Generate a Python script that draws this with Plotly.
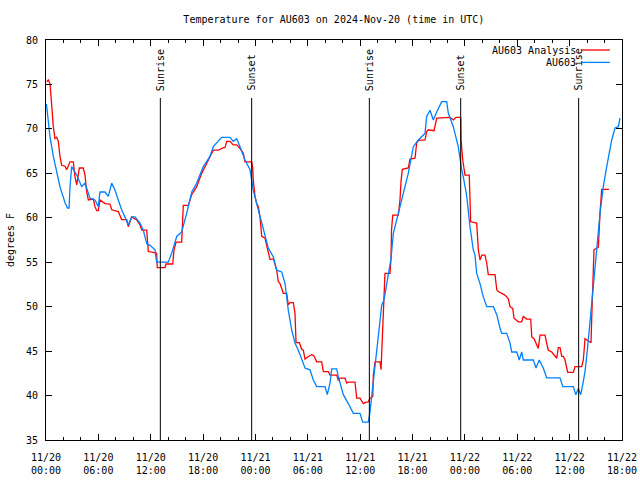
import plotly.graph_objects as go
import pandas as pd

base = pd.Timestamp("2024-11-20 00:00")
x_end = pd.Timestamp("2024-11-22 18:00")

# AU603 Analysis (hours since 11/20 00:00 UTC, degrees F)
analysis_hours = [0.08, 0.26, 0.46, 0.65, 0.84, 1.03, 1.23, 1.41, 1.60, 1.80, 2.18, 2.37, 2.75, 3.13, 3.32, 3.52,
                  3.82, 4.27, 4.47, 4.66, 4.85, 5.42, 5.61, 5.81, 5.99, 6.19, 6.76, 7.33, 7.53, 8.28, 8.67, 9.25,
                  9.43, 9.82, 10.39, 10.77, 10.97, 11.54, 11.72, 12.30, 12.68, 12.75, 13.64, 13.75, 14.52, 14.67,
                  14.90, 15.55, 15.73, 16.31, 16.70, 17.27, 17.84, 18.41, 18.79, 19.17, 19.74, 20.32, 20.51, 20.71,
                  21.08, 21.46, 21.85, 22.23, 22.61, 22.80, 23.57, 23.69, 23.75, 23.83, 23.95, 24.14, 24.33, 24.52,
                  24.72, 25.09, 25.29, 25.67, 26.05, 26.43, 26.62, 26.81, 27.20, 27.58, 27.76, 27.96, 28.34, 28.53,
                  28.65, 29.03, 29.30, 29.48, 29.68, 30.06, 30.45, 30.71, 31.02, 31.59, 31.78, 32.35, 32.54, 33.31,
                  33.50, 33.69, 34.26, 34.46, 34.64, 35.41, 35.60, 35.98, 36.36, 36.55, 36.93, 37.13, 37.44, 37.51,
                  37.70, 38.27, 38.39, 38.58, 38.73, 38.84, 39.42, 39.53, 39.59, 39.73, 40.37, 40.56, 40.68, 40.83,
                  41.51, 41.71, 42.28, 42.47, 42.66, 43.43, 43.62, 43.81, 44.46, 44.77, 46.29, 46.67, 46.98, 47.52,
                  47.56, 47.75, 48.01, 48.50, 48.66, 49.35, 49.54, 49.73, 49.93, 50.30, 50.50, 50.68, 51.45, 51.65,
                  51.83, 52.22, 52.60, 52.97, 53.17, 53.48, 53.63, 54.12, 54.51, 54.69, 55.08, 55.54, 55.66, 55.92,
                  56.23, 56.41, 56.61, 57.18, 57.37, 57.56, 57.95, 58.32, 58.52, 58.70, 58.90, 59.09, 59.28, 59.47,
                  59.67, 59.78, 60.42, 60.62, 61.38, 61.57, 61.76, 61.96, 62.45, 62.53, 62.64, 62.71, 62.79, 63.10,
                  63.29, 63.48, 63.67, 64.51]
analysis_temps = [75.3, 75.5, 75.1, 72.1, 70.25, 68.9, 69.05, 68.6, 66.9, 65.9, 65.8, 65.4, 66.3, 66.3, 64.6, 63.7,
                  65.6, 65.6, 64.8, 62.9, 62.0, 62.1, 61.25, 60.8, 60.8, 62.0, 61.6, 61.55, 60.9, 60.7, 59.8, 59.8,
                  59.0, 60.1, 59.75, 59.2, 58.6, 58.6, 56.2, 56.1, 56.0, 54.4, 54.4, 54.8, 54.8, 56.4,
                  57.25, 57.25, 61.4, 61.4, 62.6, 63.5, 65.0, 66.1, 66.9, 67.6, 67.6, 67.9, 67.9, 68.6,
                  68.6, 68.2, 68.2, 67.8, 67.25, 66.3, 66.3, 65.6, 64.25, 63.1, 62.4, 61.6, 61.25, 60.1,
                  57.9, 57.7, 56.75, 55.3, 55.4, 54.1, 52.8, 52.6, 51.5, 51.5, 50.2, 50.45, 50.45, 49.25,
                  45.95, 45.95, 45.2, 45.1, 44.1, 44.4, 44.6, 44.45, 43.8, 43.8, 42.7, 42.7, 42.3, 42.3,
                  41.7, 41.95, 41.95, 41.4, 41.5, 41.5, 39.7, 39.7, 39.1, 39.2, 39.3, 39.7, 39.9, 42.3,
                  43.8, 43.8, 42.9, 48.3, 51.9, 53.75, 53.75, 55.4, 58.6, 60.3, 60.3, 62.0, 64.1, 65.45,
                  65.6, 66.6, 66.7, 68.4, 68.7, 68.75, 69.7, 69.9, 69.8, 71.2, 71.3, 71.0, 71.3, 71.3,
                  68.75, 66.5, 64.8, 64.8, 59.55, 59.4, 56.4, 55.25, 55.8, 55.8, 54.9, 53.6, 53.6, 51.9,
                  51.7, 51.5, 51.3, 50.9, 50.0, 49.8, 48.7, 48.3, 48.3, 48.9, 48.6, 48.6, 46.6, 46.4,
                  45.7, 45.3, 46.8, 46.8, 45.9, 45.1, 44.9, 44.4, 44.2, 45.4, 45.4, 44.4, 44.4, 44.0,
                  43.1, 42.6, 42.6, 43.25, 43.25, 44.0, 46.4, 46.25, 45.95, 48.7, 51.5, 54.3, 56.4, 56.6,
                  56.7, 60.5, 63.2, 63.2]

# AU603 observations
obs_hours = [0.05, 0.46, 0.84, 1.60, 2.18, 2.46, 2.64, 2.75, 2.94, 3.13, 3.52, 4.09, 4.47, 5.04, 5.61, 5.99,
             6.19, 6.76, 7.14, 7.53, 7.91, 8.28, 8.67, 9.05, 9.43, 9.82, 10.20, 10.77, 11.15, 11.54, 11.92, 12.49,
             12.68, 14.01, 14.40, 14.98, 15.55, 16.12, 16.70, 17.27, 18.02, 18.79, 19.17, 20.13, 21.08, 21.46,
             21.85, 22.23, 22.80, 23.38, 23.75, 24.14, 24.52, 24.90, 25.47, 26.05, 26.43, 27.01, 27.39, 27.58,
             27.76, 28.15, 28.53, 28.91, 29.30, 29.68, 30.25, 30.63, 31.02, 31.97, 32.23, 32.54, 32.74, 33.31,
             33.50, 34.07, 34.64, 35.21, 35.98, 36.29, 36.93, 37.13, 37.32, 37.70, 37.89, 38.27, 38.47, 38.73,
             39.04, 39.22, 39.53, 39.80, 40.37, 40.94, 41.51, 42.09, 42.66, 43.43, 43.62, 44.00, 44.38, 44.77,
             45.34, 45.91, 46.10, 46.67, 47.24, 47.63, 47.82, 48.21, 48.58, 48.96, 49.16, 49.35, 49.73, 50.11,
             50.50, 51.26, 51.65, 52.02, 52.22, 52.79, 53.17, 53.36, 53.94, 54.23, 54.51, 54.69, 55.84, 56.15,
             56.52, 56.98, 57.37, 58.90, 59.21, 60.42, 60.70, 61.00, 61.27, 61.57, 61.76, 62.03, 62.26, 62.53,
             62.71, 63.10, 63.48, 63.86, 64.25, 64.82, 65.20, 65.58, 65.77]
obs_temps = [72.8, 69.1, 66.9, 63.5, 61.7, 61.1, 61.1, 63.5, 65.75, 65.4, 64.8, 63.5, 63.9, 62.2, 62.0, 61.25,
             62.9, 62.9, 62.4, 63.9, 63.1, 62.0, 60.9, 60.1, 59.2, 60.1, 60.1, 59.4, 58.6, 57.1, 56.9, 56.4,
             55.0, 55.0, 56.0, 57.9, 58.4, 60.5, 62.9, 63.9, 65.75, 66.9, 68.0, 69.05, 69.05, 68.6,
             68.9, 68.0, 66.5, 65.4, 63.1, 61.6, 60.1, 58.6, 56.6, 55.6, 54.1, 53.9, 52.6, 51.1,
             49.6, 47.4, 45.9, 45.1, 44.0, 43.1, 42.9, 41.75, 41.0, 41.0, 40.1, 41.4, 43.0, 43.0,
             42.1, 40.1, 39.1, 38.0, 38.0, 37.0, 37.0, 38.2, 39.9, 43.25, 45.5, 48.3, 50.2, 50.75,
             52.6, 53.75, 55.4, 58.25, 60.5, 62.75, 65.0, 68.0, 68.75, 69.5, 71.4, 72.1, 71.0, 71.9,
             73.06, 73.06, 71.75, 70.25, 68.0, 65.4, 64.6, 62.4, 59.0, 56.4, 55.8, 53.75, 52.6, 51.1,
             50.0, 50.0, 49.1, 47.6, 47.0, 47.0, 45.9, 44.9, 44.9, 44.0, 44.9, 44.0, 44.0, 43.1,
             44.0, 43.1, 42.0, 42.0, 41.0, 41.0, 40.1, 40.8, 40.1, 41.6, 42.7, 45.1, 47.4, 50.4,
             52.6, 56.4, 60.5, 63.5, 65.75, 68.75, 70.1, 70.25, 71.2]

event_times = ["2024-11-20 13:06", "2024-11-20 23:34", "2024-11-21 13:03", "2024-11-21 23:31", "2024-11-22 13:02"]
event_labels = ["Sunrise", "Sunset", "Sunrise", "Sunset", "Sunrise"]

series_names = ["AU603 Analysis", "AU603"]
series_colors = ["#ff0000", "#0080ff"]

FONT = "DejaVu Sans Mono"


def to_time(hours):
    return [base + pd.Timedelta(hours=h) for h in hours]


fig = go.Figure()
fig.add_trace(go.Scatter(x=to_time(analysis_hours), y=analysis_temps, mode="lines",
                         name=series_names[0], line=dict(color=series_colors[0], width=1.3)))
fig.add_trace(go.Scatter(x=to_time(obs_hours), y=obs_temps, mode="lines",
                         name=series_names[1], line=dict(color=series_colors[1], width=1.3)))

# Sunrise / sunset markers
for t, lab in zip(event_times, event_labels):
    fig.add_shape(type="line", xref="x", yref="paper", x0=t, x1=t, y0=0, y1=0.855,
                  line=dict(color="black", width=1))
    fig.add_annotation(x=t, xref="x", y=0.868, yref="paper", text=lab, textangle=-90,
                       showarrow=False, xanchor="center", yanchor="bottom",
                       font=dict(family=FONT, size=10, color="black"))

# Gnuplot-style legend (text on the left, line sample on the right)
legend_y = [0.975, 0.944]
for name, col, ly in zip(series_names, series_colors, legend_y):
    fig.add_annotation(x=0.9236, y=ly, xref="paper", yref="paper", text=name, showarrow=False,
                       xanchor="right", yanchor="middle", font=dict(family=FONT, size=10, color="black"))
    fig.add_shape(type="line", xref="paper", yref="paper", x0=0.9306, x1=0.979, y0=ly, y1=ly,
                  line=dict(color=col, width=1.3))

fig.update_layout(
    width=640, height=480,
    margin=dict(l=46, r=18, t=40, b=40, autoexpand=False),
    paper_bgcolor="white", plot_bgcolor="white",
    showlegend=False,
    font=dict(family=FONT, size=10, color="black"),
    title=dict(text="Temperature for AU603 on 2024-Nov-20 (time in UTC)", x=0.5217, xanchor="center",
               y=1 - 19 / 480, yanchor="middle", yref="container", font=dict(family=FONT, size=10)),
)
fig.update_xaxes(
    type="date", range=[base, x_end], tickmode="linear", tick0=base, dtick=6 * 3600 * 1000,
    tickformat="%m/%d<br>%H:%M", ticks="inside", ticklen=6, tickcolor="black",
    minor=dict(dtick=2 * 3600 * 1000, ticks="inside", ticklen=3, tickcolor="black", showgrid=False),
    showline=True, linecolor="black", linewidth=1, mirror="ticks", showgrid=False, zeroline=False,
    tickfont=dict(family=FONT, size=10), ticklabelstandoff=8, automargin=False,
)
fig.update_yaxes(
    range=[35, 80], tickmode="linear", tick0=35, dtick=5, ticks="inside", ticklen=6, tickcolor="black",
    showline=True, linecolor="black", linewidth=1, mirror="ticks", showgrid=False, zeroline=False,
    tickfont=dict(family=FONT, size=10), ticklabelstandoff=5, automargin=False,
    title=dict(text="degrees F", font=dict(family=FONT, size=10), standoff=9),
)

fig.write_html("out.html")
